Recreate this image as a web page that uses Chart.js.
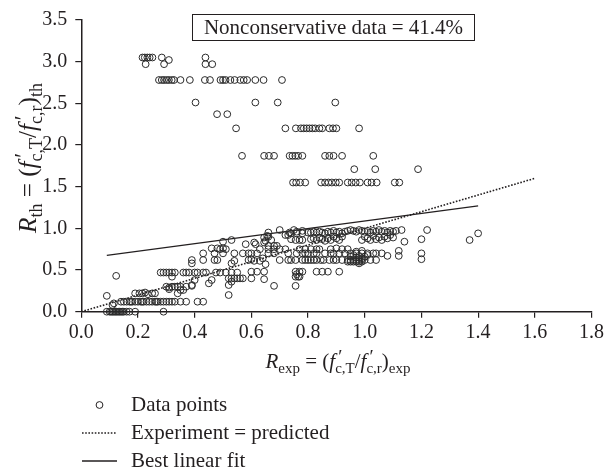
<!DOCTYPE html>
<html>
<head>
<meta charset="utf-8">
<script src="https://cdn.jsdelivr.net/npm/chart.js@4.4.1/dist/chart.umd.min.js"></script>
<style>
html, body { margin: 0; padding: 0; background: #fff; }
#wrap { width: 607px; height: 471px; }
</style>
</head>
<body>
<div id="wrap"><canvas id="fit_chart" width="607" height="471"></canvas></div>
<script>
// tick labels
const x_ticks = [0.0, 0.2, 0.4, 0.6, 0.8, 1.0, 1.2, 1.4, 1.6, 1.8];
const y_ticks = [0.0, 0.5, 1.0, 1.5, 2.0, 2.5, 3.0, 3.5];

// upper (nonconservative) points sit on a few discrete R_th levels
const upper_levels = [3.05, 3.02, 2.97, 2.78, 2.51, 2.37, 2.20, 1.87, 1.71, 1.55];
const upper_x = [
  [0.216, 0.224, 0.233, 0.241, 0.251, 0.284, 0.438],
  [0.309],
  [0.227, 0.292, 0.438, 0.462],
  [0.274, 0.284, 0.292, 0.301, 0.309, 0.319, 0.327, 0.35, 0.383, 0.436, 0.454, 0.491, 0.50, 0.509, 0.526, 0.541, 0.561, 0.573, 0.585, 0.614, 0.643, 0.708],
  [0.403, 0.614, 0.693, 0.896],
  [0.479, 0.515],
  [0.546, 0.72, 0.757, 0.775, 0.785, 0.795, 0.805, 0.815, 0.825, 0.84, 0.85, 0.875, 0.888, 0.90, 0.98],
  [0.567, 0.645, 0.662, 0.68, 0.735, 0.745, 0.755, 0.765, 0.78, 0.86, 0.875, 0.89, 0.92, 1.03],
  [0.963, 1.037, 1.188],
  [0.747, 0.758, 0.772, 0.79, 0.846, 0.86, 0.872, 0.884, 0.898, 0.91, 0.94, 0.954, 0.968, 0.983, 1.01, 1.024, 1.042, 1.106, 1.122]
];

// lower cloud [R_exp, R_th]
const lower_points = [
  [0.09,0],[0.10,0],[0.105,0],[0.11,0],[0.115,0],[0.12,0],[0.125,0],[0.13,0],[0.135,0],[0.14,0],[0.145,0],[0.15,0],[0.16,0],[0.17,0],[0.19,0],[0.29,0],
  [0.09,0.19],[0.11,0.08],[0.115,0.10],[0.123,0.43],
  [0.14,0.12],[0.15,0.12],[0.16,0.12],[0.17,0.12],[0.175,0.12],[0.18,0.12],[0.19,0.12],[0.20,0.12],[0.21,0.12],[0.215,0.12],[0.22,0.12],[0.23,0.12],[0.24,0.12],[0.25,0.12],[0.26,0.12],[0.265,0.12],[0.27,0.12],[0.28,0.12],[0.29,0.12],[0.30,0.12],[0.31,0.12],[0.32,0.12],[0.33,0.12],[0.35,0.12],[0.37,0.12],[0.41,0.12],[0.43,0.12],
  [0.19,0.22],[0.205,0.22],[0.215,0.22],[0.225,0.23],[0.235,0.21],[0.25,0.22],[0.26,0.22],
  [0.30,0.30],[0.31,0.29],[0.32,0.30],[0.33,0.30],[0.34,0.30],[0.35,0.30],[0.37,0.30],[0.39,0.31],[0.34,0.22],[0.35,0.26],[0.36,0.26],[0.32,0.42],[0.31,0.27],
  [0.28,0.47],[0.29,0.47],[0.30,0.47],[0.31,0.47],[0.32,0.47],[0.33,0.47],[0.36,0.47],[0.37,0.47],[0.38,0.47],[0.40,0.47],[0.41,0.47],[0.43,0.47],[0.44,0.47],[0.475,0.47],[0.49,0.47],[0.51,0.47],[0.53,0.47],[0.55,0.47],
  [0.46,0.38],[0.45,0.34],[0.39,0.32],[0.40,0.38],
  [0.39,0.62],[0.39,0.58],[0.43,0.62],[0.47,0.62],[0.48,0.62],[0.43,0.70],[0.46,0.76],[0.48,0.76],[0.50,0.76],[0.47,0.70],[0.50,0.84],[0.53,0.86],
  [0.52,0.40],[0.53,0.40],[0.54,0.40],[0.55,0.40],[0.56,0.40],[0.57,0.40],[0.52,0.32],[0.52,0.20],[0.53,0.36],
  [0.50,0.70],[0.54,0.70],[0.57,0.70],[0.49,0.75],[0.51,0.75],[0.54,0.61],[0.53,0.58],
  [0.58,0.81],[0.61,0.83],[0.63,0.75],[0.645,0.89],[0.656,0.91],[0.60,0.70],[0.60,0.48],[0.645,0.48],[0.645,0.39],[0.60,0.40],[0.62,0.48],[0.61,0.61],[0.63,0.61],[0.60,0.63],[0.615,0.81],
  [0.66,0.95],[0.66,0.90],[0.67,0.86],[0.645,0.83],[0.70,0.98],[0.72,0.92],[0.73,0.92],[0.75,0.98],[0.756,0.86],[0.77,0.86],[0.78,0.86],[0.74,0.87],[0.74,0.94],[0.76,0.94],[0.78,0.94],[0.80,0.95],
  [0.81,0.95],[0.82,0.96],[0.83,0.95],[0.84,0.96],[0.85,0.95],[0.86,0.94],[0.87,0.96],[0.88,0.95],[0.89,0.97],[0.90,0.95],[0.91,0.96],[0.92,0.94],[0.93,0.96],
  [0.81,0.87],[0.82,0.88],[0.83,0.86],[0.84,0.89],[0.85,0.87],[0.86,0.85],[0.87,0.88],[0.88,0.86],[0.89,0.90],[0.90,0.88],[0.91,0.86],[0.92,0.90],
  [0.94,0.97],[0.95,0.98],[0.96,0.97],[0.97,0.96],[0.98,0.98],[0.99,0.97],[1.00,0.96],[1.01,0.97],[1.02,0.95],[1.03,0.97],[1.04,0.96],[1.05,0.98],[1.06,0.96],[1.07,0.97],[1.08,0.95],[1.09,0.97],[1.10,0.96],[1.11,0.97],
  [0.99,0.86],[1.00,0.90],[1.01,0.88],[1.02,0.86],[1.03,0.91],[1.04,0.87],[1.05,0.89],[1.06,0.86],[1.07,0.90],[1.08,0.88],[1.09,0.92],[1.10,0.89],
  [1.13,0.98],[1.14,0.84],[1.20,0.87],[1.22,0.98],[1.37,0.86],[1.40,0.94],
  [0.66,0.75],[0.68,0.75],[0.70,0.75],[0.72,0.75],[0.77,0.75],[0.79,0.75],[0.81,0.75],[0.83,0.75],[0.84,0.75],[0.88,0.75],[0.90,0.76],[0.92,0.75],[0.94,0.75],
  [0.59,0.70],[0.62,0.70],[0.66,0.70],[0.68,0.70],[0.73,0.70],[0.76,0.70],[0.78,0.70],[0.79,0.70],[0.80,0.70],[0.82,0.70],[0.83,0.70],[0.86,0.70],[0.88,0.70],[0.89,0.70],[0.91,0.70],[0.93,0.70],[0.95,0.70],[0.97,0.70],[0.99,0.70],[1.01,0.70],[1.03,0.70],[1.04,0.70],[1.06,0.70],[1.12,0.73],[1.12,0.67],[1.20,0.70],[1.20,0.63],[1.08,0.67],
  [0.59,0.62],[0.70,0.62],[0.73,0.62],[0.74,0.62],[0.756,0.62],[0.78,0.62],[0.79,0.62],[0.80,0.62],[0.81,0.62],[0.82,0.62],[0.83,0.62],[0.845,0.62],[0.855,0.62],[0.875,0.62],[0.89,0.62],[0.90,0.62],[0.92,0.62],[0.94,0.62],[0.95,0.62],[0.96,0.62],[0.97,0.62],[0.98,0.62],[0.99,0.62],[1.00,0.62],[1.02,0.62],[1.04,0.62],
  [0.94,0.60],[0.95,0.60],[0.96,0.60],[0.97,0.60],[0.98,0.60],[0.99,0.60],[0.98,0.58],
  [0.95,0.66],[0.96,0.68],[0.97,0.65],[0.98,0.67],[0.99,0.64],[1.00,0.66],[1.01,0.68],[0.97,0.72],[0.99,0.73],
  [0.756,0.48],[0.77,0.48],[0.78,0.48],[0.83,0.48],[0.85,0.48],[0.87,0.48],[0.91,0.48],
  [0.756,0.42],[0.765,0.42],[0.77,0.42],[0.76,0.45],
  [0.68,0.31],[0.756,0.31],
  [0.69,0.79],[0.68,0.79],[0.66,0.79],[0.65,0.85],[0.64,0.64],[0.65,0.57],[0.735,0.95],[0.76,0.96],[0.78,0.97]
];

// reference lines
const ideal_line = [[0, 0], [1.6, 1.6]];
const fit_line = [[0.09, 0.676], [1.40, 1.27]];

const note_text = 'Nonconservative data = 41.4%';
const legend_labels = ['Data points', 'Experiment = predicted', 'Best linear fit'];

const serif = '"Liberation Serif", "DejaVu Serif", serif';
const ink = '#231f20';

const scatter_data = [];
upper_levels.forEach((lv, i) => {
  upper_x[i].forEach(x => scatter_data.push({x: x, y: lv}));
});
lower_points.forEach(p => scatter_data.push({x: p[0], y: p[1]}));

const x_title = [
  {t: 'R', it: true}, {t: 'exp', sub: true}, {t: ' = ('},
  {t: 'f', it: true}, {t: '\u2032', sup: true, stack: true}, {t: 'c,T', sub: true},
  {t: '/'},
  {t: 'f', it: true}, {t: '\u2032', sup: true, stack: true}, {t: 'c,r', sub: true},
  {t: ')'}, {t: 'exp', sub: true}
];
const y_title = [
  {t: 'R', it: true}, {t: 'th', sub: true}, {t: ' = ('},
  {t: 'f', it: true}, {t: '\u2032', sup: true, stack: true}, {t: 'c,T', sub: true},
  {t: '/'},
  {t: 'f', it: true}, {t: '\u2032', sup: true, stack: true}, {t: 'c,r', sub: true},
  {t: ')'}, {t: 'th', sub: true}
];

function partFont(p, k) {
  if (p.sub) return (15 * k) + 'px ' + serif;
  if (p.sup) return (19 * k) + 'px ' + serif;
  return (p.it ? 'italic ' : '') + (21 * k) + 'px ' + serif;
}

// walks the parts; draws them when draw is true, returns total width
function richText(ctx, parts, x, y, k, draw) {
  let cx = x;
  for (let i = 0; i < parts.length; i++) {
    const p = parts[i];
    ctx.font = partFont(p, k);
    const w = ctx.measureText(p.t).width;
    const dy = (p.sub ? 5 : (p.sup ? -5 : 0)) * k;
    if (p.stack && i + 1 < parts.length) {
      const q = parts[i + 1];
      if (draw) ctx.fillText(p.t, cx + 3 * k, y + dy);
      ctx.font = partFont(q, k);
      const w2 = ctx.measureText(q.t).width;
      if (draw) ctx.fillText(q.t, cx, y + 5 * k);
      cx += Math.max(w + 3 * k, w2);
      i++;
      continue;
    }
    if (draw) ctx.fillText(p.t, cx, y + dy);
    cx += w;
  }
  return cx - x;
}

const decor = {
  id: 'decor',
  afterDraw(chart) {
    const ctx = chart.ctx;
    ctx.save();
    ctx.fillStyle = ink;
    ctx.strokeStyle = ink;
    ctx.textBaseline = 'alphabetic';
    ctx.textAlign = 'left';

    // note box
    ctx.lineWidth = 1;
    ctx.strokeRect(192.5, 14.5, 282, 26);
    ctx.font = '21px ' + serif;
    ctx.textAlign = 'center';
    ctx.fillText(note_text, 333.5, 34);
    ctx.textAlign = 'left';

    // axis titles
    const xw = richText(ctx, x_title, 0, 0, 1, false);
    richText(ctx, x_title, 338 - xw / 2, 368, 1, true);
    const yk = 1.2;
    const yw = richText(ctx, y_title, 0, 0, yk, false);
    ctx.save();
    ctx.translate(36, 158);
    ctx.rotate(-Math.PI / 2);
    richText(ctx, y_title, -yw / 2, 0, yk, true);
    ctx.restore();

    // legend
    const rows = [405, 433, 461];
    ctx.lineWidth = 1;
    ctx.beginPath();
    ctx.arc(99.5, rows[0], 3.4, 0, Math.PI * 2);
    ctx.stroke();
    ctx.lineWidth = 1.6;
    ctx.setLineDash([1.6, 1.6]);
    ctx.beginPath();
    ctx.moveTo(82, rows[1]);
    ctx.lineTo(117, rows[1]);
    ctx.stroke();
    ctx.setLineDash([]);
    ctx.lineWidth = 1.3;
    ctx.beginPath();
    ctx.moveTo(82, rows[2]);
    ctx.lineTo(117, rows[2]);
    ctx.stroke();
    ctx.font = '21px ' + serif;
    ctx.textBaseline = 'middle';
    legend_labels.forEach((s, i) => ctx.fillText(s, 131, rows[i]));
    ctx.restore();
  }
};

const fit_ctx = document.getElementById('fit_chart');

const fit_chart = new Chart(fit_ctx, {
  type: 'scatter',
  data: {
    datasets: [{
      label: legend_labels[0],
      data: scatter_data,
      pointRadius: 3.4,
      pointBorderWidth: 1,
      pointBorderColor: '#2b2b2b',
      pointBackgroundColor: 'rgba(0,0,0,0)',
      pointHoverRadius: 3.4,
      clip: false
    }, {
      label: legend_labels[1],
      data: ideal_line.map(p => ({x: p[0], y: p[1]})),
      showLine: true,
      borderColor: ink,
      borderWidth: 1.6,
      borderDash: [1.6, 1.6],
      pointRadius: 0
    }, {
      label: legend_labels[2],
      data: fit_line.map(p => ({x: p[0], y: p[1]})),
      showLine: true,
      borderColor: ink,
      borderWidth: 1.3,
      pointRadius: 0
    }]
  },
  options: {
    responsive: false,
    animation: false,
    devicePixelRatio: 1,
    layout: {padding: {top: 18, right: 13, left: 0, bottom: 0}},
    plugins: {
      legend: {display: false},
      tooltip: {enabled: false}
    },
    scales: {
      x: {
        type: 'linear',
        min: 0,
        max: 1.8,
        afterBuildTicks: s => { s.ticks = x_ticks.map(v => ({value: v})); },
        afterFit: s => { s.height = 471 - 311.7; },
        ticks: {
          callback: v => v.toFixed(1),
          font: {family: serif, size: 20},
          color: ink,
          padding: 3,
          maxRotation: 0,
          autoSkip: false
        },
        grid: {drawOnChartArea: false, drawTicks: true, tickLength: 6, color: ink, lineWidth: 1.2},
        border: {color: ink, width: 1.5}
      },
      y: {
        type: 'linear',
        min: 0,
        max: 3.5,
        afterBuildTicks: s => { s.ticks = y_ticks.map(v => ({value: v})); },
        afterFit: s => { s.width = 81.3; },
        ticks: {
          callback: v => v.toFixed(1),
          font: {family: serif, size: 20},
          color: ink,
          padding: 8,
          autoSkip: false
        },
        grid: {drawOnChartArea: false, drawTicks: true, tickLength: 6, color: ink, lineWidth: 1.2},
        border: {color: ink, width: 1.5}
      }
    }
  },
  plugins: [decor]
});
</script>
</body>
</html>
